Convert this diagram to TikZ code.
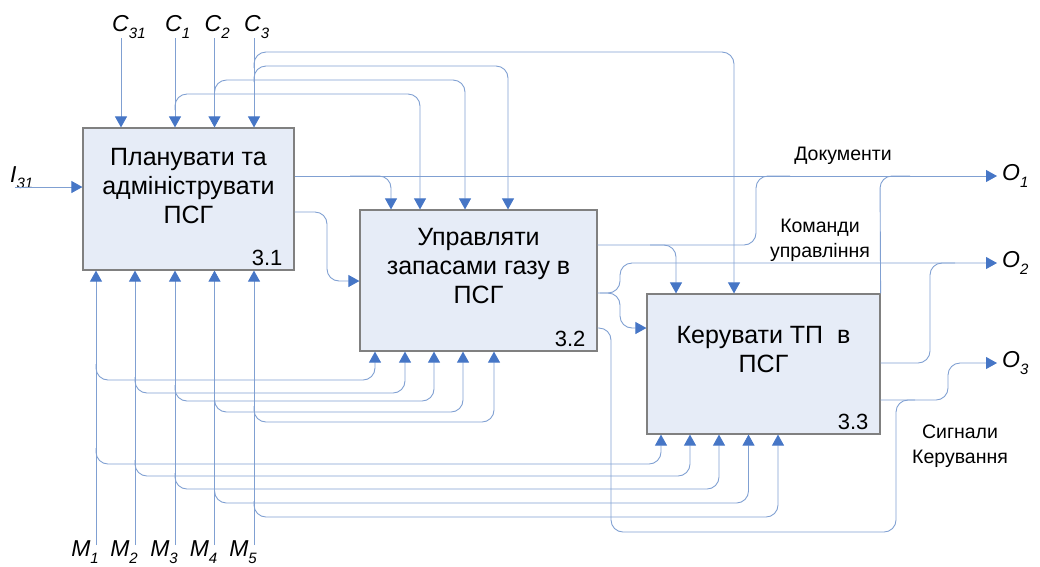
\documentclass[tikz,border=0pt]{standalone}
\usepackage{fontspec}
\setmainfont{Liberation Sans}
\usetikzlibrary{arrows.meta}

\definecolor{linec}{RGB}{128,160,210}
\definecolor{tipc}{RGB}{70,118,198}
\definecolor{boxfill}{RGB}{230,236,247}
\newcommand{\lbl}[2]{\textit{#1}\raisebox{-0.3em}{\fontsize{15}{15}\selectfont\textit{#2}}}

\begin{document}
\begin{tikzpicture}[
  x=1pt, y=-1pt,
  act/.style={draw=gray, fill=boxfill, line width=1.2pt, inner sep=0pt},
  acttext/.style={align=center, font=\fontsize{25}{29}\selectfont},
  num/.style={anchor=south east, inner sep=0pt, font=\fontsize{22}{22}\selectfont},
  sig/.style={inner sep=0pt, font=\fontsize{23}{23}\selectfont},
  note/.style={align=center, font=\fontsize{19.5}{25}\selectfont},
  flow/.style={draw=linec, line width=0.9pt, rounded corners=12pt},
  tip/.style={-{Triangle[width=12pt,length=11pt,color=tipc]}}
]
  \useasboundingbox (0,0) rectangle (1040,566);

  % activities
  \node[act, minimum width=211pt, minimum height=142pt] (plan) at (188.5,199) {};
  \node[act, minimum width=237pt, minimum height=141pt] (stock) at (478.5,280.5) {};
  \node[act, minimum width=233pt, minimum height=140pt] (ctrl) at (763.5,364) {};
  \node[acttext] (plan-t) at (188.5,186) {Планувати та\\адмініструвати\\ПСГ};
  \node[acttext] (stock-t) at (478.5,266) {Управляти\\запасами газу в\\ПСГ};
  \node[acttext] (ctrl-t) at (763.5,350) {Керувати ТП\ \ в\\ПСГ};
  \node[num] (plan-n) at ([shift={(-12,-5)}]plan.south east) {3.1};
  \node[num] (stock-n) at ([shift={(-12,-5)}]stock.south east) {3.2};
  \node[num] (ctrl-n) at ([shift={(-12,-5)}]ctrl.south east) {3.3};

  % controls
  \node[sig, anchor=west] (lc31) at (112,27) {\lbl{C}{31}};
  \node[sig, anchor=west] (lc1) at (165,27) {\lbl{C}{1}};
  \node[sig, anchor=west] (lc2) at (204.5,27) {\lbl{C}{2}};
  \node[sig, anchor=west] (lc3) at (244,27) {\lbl{C}{3}};
  \coordinate (c31) at (121,38);
  \coordinate (c1) at (175,38);
  \coordinate (c2) at (214.5,38);
  \coordinate (c3) at (254,38);
  \foreach \c in {c31,c1,c2,c3}
    \draw[flow,tip] (\c) -- (\c |- plan.north);
  \draw[flow,tip] (175,110) -- (175,94) -| (420,0 |- stock.north);
  \draw[flow,tip] (214.5,96) -- (214.5,80) -| (465,0 |- stock.north);
  \draw[flow,tip] (254,82) -- (254,66) -| (508,0 |- stock.north);
  \draw[flow,tip] (254,68) -- (254,52) -| (734,0 |- ctrl.north);

  % input
  \node[sig, anchor=base west] (li31) at (10,182) {\lbl{I}{31}};
  \coordinate (i31) at (15,187);
  \draw[flow,tip] (i31) -- (i31 -| plan.west);

  % outputs
  \node[sig, anchor=west] (lo1) at (1002,176) {\lbl{O}{1}};
  \node[sig, anchor=west] (lo2) at (1002,263) {\lbl{O}{2}};
  \node[sig, anchor=west] (lo3) at (1002,363) {\lbl{O}{3}};
  \coordinate (o1) at (997,176);
  \coordinate (o2) at (997,263);
  \coordinate (o3) at (997,363);
  \draw[flow,tip] (plan.east |- o1) -- (o1);
  \draw[flow,tip] (350,176) -| (391,0 |- stock.north);
  \draw[flow,tip] (plan.east |- 0,212) -| (327,281) -- (327,281 -| stock.west);
  \draw[flow,tip] (stock.east |- 0,245) -| (676,0 |- ctrl.north);
  \draw[flow] (650,245) -| (756,176) -- (790,176);
  \draw[flow,tip] (stock.east |- 0,293) -| (620,263) -- (o2);
  \draw[flow,tip] (600,293) -| (620,328) -- (620,328 -| ctrl.west);
  \draw[flow] (stock.east |- 0,328) -| (611,532) -| (896,400) -- (915,400);
  \draw[flow] (ctrl.east |- 0,363) -| (930,263) -- (955,263);
  \draw[flow,tip] (ctrl.east |- 0,400) -| (948,363) -- (o3);
  \draw[flow] (ctrl.north east) -- (880,176) -- (910,176);

  \node[note] (docs) at (843,156) {Документи};
  \node[note] (cmds) at (820,240) {Команди\\управління};
  \node[note] (sigs) at (960,446) {Сигнали\\Керування};

  % mechanisms
  \foreach \m/\x/\ya/\xa/\yb/\xb in {1/96/380/375/464/661, 2/135/393/405/476/690,
      3/175/401/434/489/719, 4/214.5/412/463/503/748.5, 5/254/422/494/517/778}{
    \node[sig, anchor=east] (lm\m) at (\x+3,552) {\lbl{M}{\m}};
    \coordinate (m\m) at (\x,545);
    \draw[flow,tip] (m\m) -- (m\m |- plan.south);
    \draw[flow,tip] (\x,\ya-16) -- (\x,\ya) -| (\xa,0 |- stock.south);
    \draw[flow,tip] (\x,\yb-16) -- (\x,\yb) -| (\xb,0 |- ctrl.south);
  }
\end{tikzpicture}
\end{document}
